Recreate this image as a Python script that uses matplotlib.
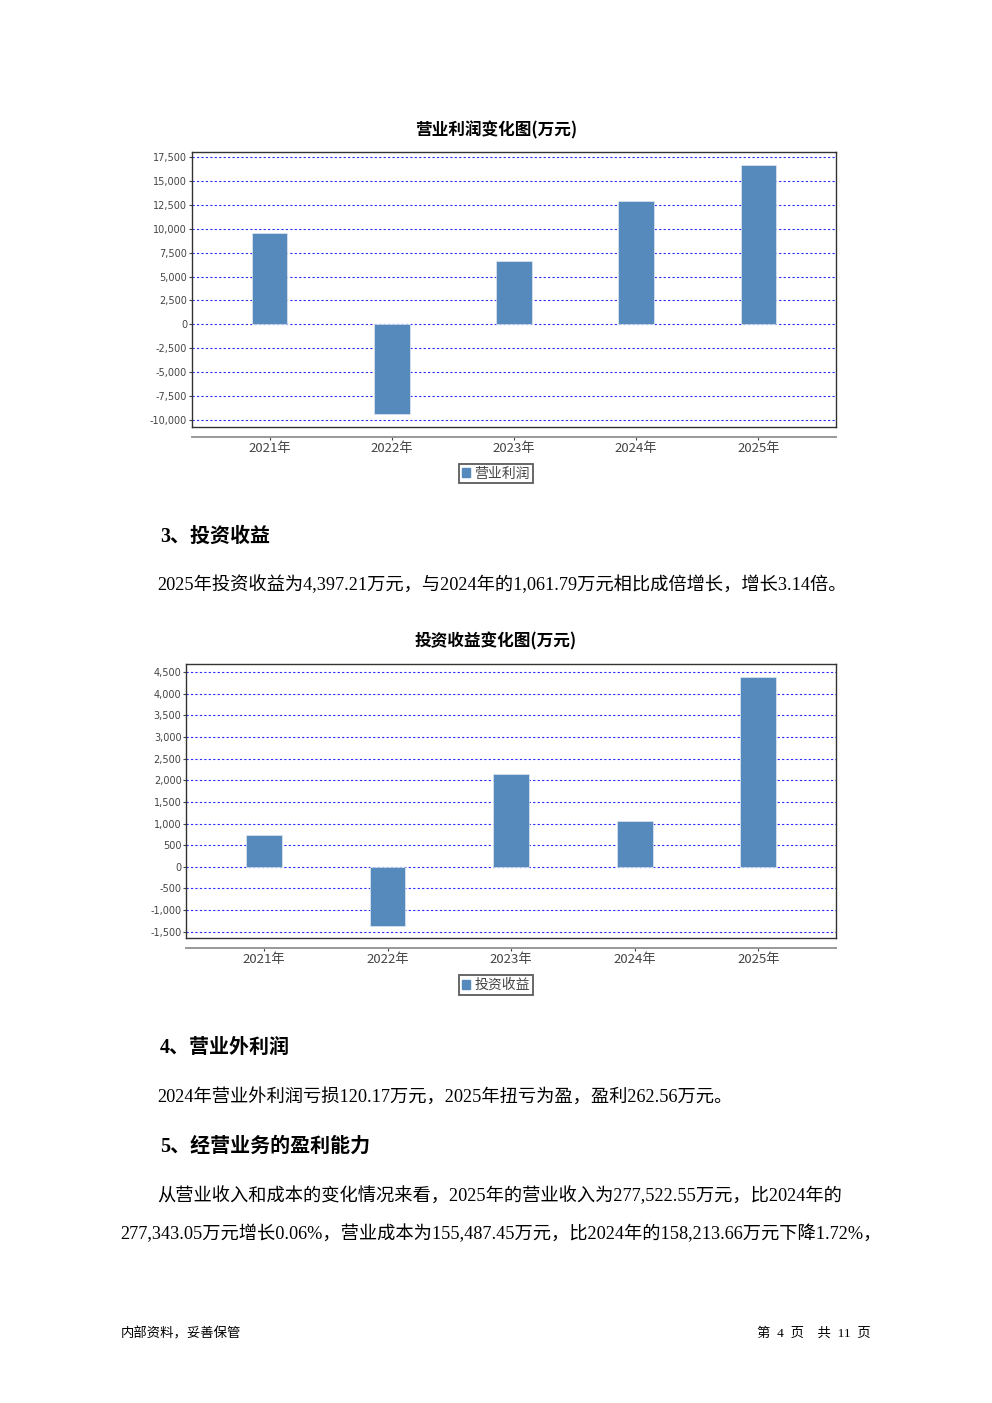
import matplotlib
matplotlib.use("Agg")
import matplotlib.pyplot as plt
import matplotlib.patches as mpatches
from matplotlib.ticker import FixedLocator, FuncFormatter

W, H = 992, 1403
DPI = 100

plt.rcParams['font.family'] = ['Noto Sans CJK SC', 'DejaVu Sans']

# 数据
years = ['2021年', '2022年', '2023年', '2024年', '2025年']
op_profit = [9570, -9390, 6600, 12920, 16690]        # 营业利润
inv_income = [725, -1373, 2153, 1061.79, 4397.21]     # 投资收益
op_ticks = list(range(-10000, 17501, 2500))
inv_ticks = list(range(-1500, 4501, 500))

BAR_COL = "#5689bc"
GRID_COL = "#2b2bff"
FRAME_COL = "#333333"
TXT_COL = "#444444"
SERIF = ['Liberation Serif', 'Noto Sans CJK SC']


def fx(x):
    return x / W


def fy(y):
    return 1 - y / H


fig = plt.figure(figsize=(W / DPI, H / DPI), dpi=DPI)
fig.patch.set_facecolor("white")


def bar_chart(left, right, top, bottom, vals, ticks, ylim, xlim, title, title_y,
              legend_label, legend_y):
    ax = fig.add_axes([fx(left), fy(bottom), fx(right - left), (bottom - top) / H])
    x = list(range(len(vals)))
    ax.bar(x, vals, width=0.29, color=BAR_COL, edgecolor="#dfe8f2", linewidth=0.5,
           zorder=3)
    ax.set_xlim(*xlim)
    ax.set_ylim(*ylim)
    ax.yaxis.set_major_locator(FixedLocator(ticks))
    ax.yaxis.set_major_formatter(FuncFormatter(lambda v, p: f"{int(v):,}"))
    ax.yaxis.grid(True, color=GRID_COL, linestyle=(0, (2, 2)), lw=0.8)
    ax.set_axisbelow(True)
    ax.set_xticks(x)
    ax.set_xticklabels(years)
    for s in ['top', 'left', 'right']:
        ax.spines[s].set_color(FRAME_COL)
        ax.spines[s].set_linewidth(1.0)
    # 类别轴：框下方的灰色轴线
    ax.spines['bottom'].set_position(('outward', 7.2))
    ax.spines['bottom'].set_color("#999999")
    ax.spines['bottom'].set_linewidth(1.4)
    ax.plot([0, 1], [0, 0], transform=ax.transAxes, color=FRAME_COL, lw=1.0,
            clip_on=False, zorder=5)
    ax.tick_params(axis='y', labelsize=7, length=2, pad=1.5, colors=TXT_COL,
                   labelfontfamily='DejaVu Sans')
    ax.tick_params(axis='x', labelsize=9.5, length=2.5, pad=1, colors=TXT_COL)
    fig.text(fx(496), fy(title_y), title, fontsize=12, fontweight='bold',
             ha='center', va='center', color='black')
    fig.legend(handles=[mpatches.Patch(color=BAR_COL)], labels=[legend_label],
               loc='center', bbox_to_anchor=(fx(496), fy(legend_y)),
               fontsize=10, frameon=True, fancybox=False, edgecolor=FRAME_COL,
               handlelength=0.6, handleheight=0.6, handletextpad=0.3,
               borderpad=0.2, labelcolor=TXT_COL)
    fig.legends[-1].get_frame().set_linewidth(1.3)
    return ax


bar_chart(192, 836, 152.3, 426.7, op_profit, op_ticks, (-10725, 18014),
          (-0.635, 4.635), "营业利润变化图(万元)", 130, "营业利润", 473.7)
bar_chart(186.4, 836.4, 664, 938.3, inv_income, inv_ticks, (-1657, 4692),
          (-0.628, 4.632), "投资收益变化图(万元)", 641, "投资收益", 985)

# 正文
BODY = 13.15
HEAD = 14.4


def body(x, y, s, size=BODY, weight='normal', ha='left'):
    fig.text(fx(x), fy(y), s, fontsize=size, fontweight=weight, ha=ha,
             va='center', family=SERIF, color='black')


body(160, 537, "3、投资收益", size=HEAD, weight='bold')
body(157, 585, "2025年投资收益为4,397.21万元，与2024年的1,061.79万元相比成倍增长，增长3.14倍。")
body(160, 1048, "4、营业外利润", size=HEAD, weight='bold')
body(157, 1098, "2024年营业外利润亏损120.17万元，2025年扭亏为盈，盈利262.56万元。")
body(160, 1147, "5、经营业务的盈利能力", size=HEAD, weight='bold')
body(157, 1196, "从营业收入和成本的变化情况来看，2025年的营业收入为277,522.55万元，比2024年的")
body(120, 1234, "277,343.05万元增长0.06%，营业成本为155,487.45万元，比2024年的158,213.66万元下降1.72%，")

# 页脚
fig.text(fx(121), fy(1333), "内部资料，妥善保管", fontsize=9.6, ha='left', va='center',
         color='black')
fig.text(fx(871), fy(1333), "第  4  页    共  11  页", fontsize=9.6, ha='right',
         va='center', family=SERIF, color='black')

fig.savefig("out.png", dpi=DPI, facecolor="white")
